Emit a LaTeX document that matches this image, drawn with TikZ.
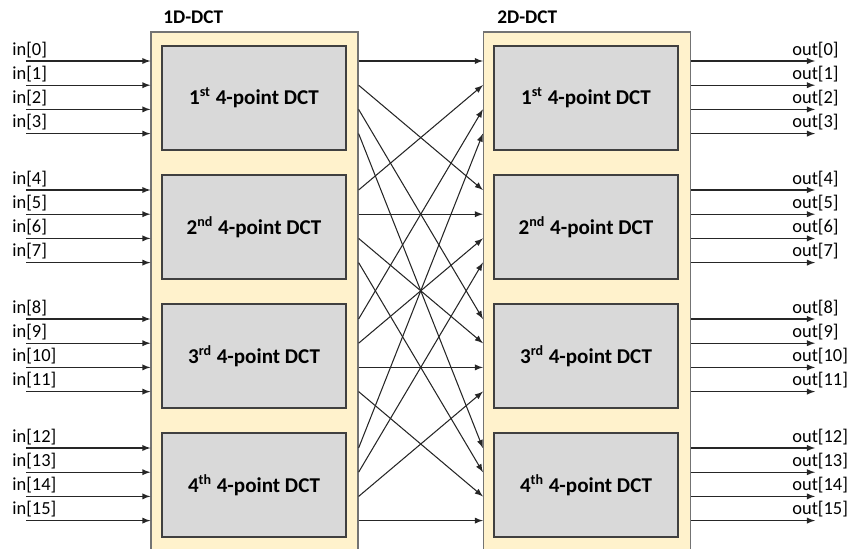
\documentclass[tikz,border=0pt]{standalone}
\usepackage{fontspec}
\setmainfont{Carlito}
\definecolor{stagecream}{HTML}{FFF2CC}
\definecolor{boxgray}{HTML}{D9D9D9}
\tikzset{
  stagebox/.style={draw=black!55, fill=stagecream, line width=0.7pt,
    minimum width=207*0.02cm, minimum height=528*0.02cm, inner sep=0pt},
  dctbox/.style={draw=black!75, fill=boxgray, line width=0.7pt,
    minimum width=184*0.02cm, minimum height=104*0.02cm, inner sep=0pt,
    font=\fontsize{12}{14}\selectfont\bfseries},
  sig/.style={line width=0.6pt, draw=black!85, -latex},
  portlabel/.style={anchor=base west, inner sep=0pt, font=\fontsize{10.5}{12}\selectfont},
  stagetitle/.style={anchor=base west, inner sep=0pt, font=\fontsize{11}{13}\selectfont\bfseries},
}
\begin{document}
\begin{tikzpicture}[x=0.02cm,y=-0.02cm]
\useasboundingbox (0,0) rectangle (855,548);
% the two stages
\node[stagebox] (dct1d) at (254.5,296) {};
\node[stagebox] (dct2d) at (587,296) {};
\node[stagetitle] (title1d) at (163,23) {1D-DCT};
\node[stagetitle] (title2d) at (497,23) {2D-DCT};
% 4-point blocks
\foreach \k/\num/\ord in {0/1/st,1/2/nd,2/3/rd,3/4/th} {
  \pgfmathsetmacro\yb{98+129*\k}
  \node[dctbox] (a\k) at (254,\yb) {\num\textsuperscript{\ord} 4-point DCT};
  \node[dctbox] (b\k) at (586,\yb) {\num\textsuperscript{\ord} 4-point DCT};
}
% inputs and outputs
\foreach \k in {0,...,3}
\foreach \r in {0,...,3} {
  \pgfmathtruncatemacro\n{4*\k+\r}
  \pgfmathsetmacro\y{61+129*\k+24.2*\r}
  \coordinate (in\n) at (26,\y);
  \coordinate (out\n) at (815,\y);
  \node[portlabel] (inlab\n) at (12,\y-6) {in[\n]};
  \node[portlabel] (outlab\n) at (792,\y-6) {out[\n]};
  \draw[sig] (in\n) -- (dct1d.west |- in\n);
  \draw[sig] (dct2d.east |- in\n) -- (out\n);
}
% transpose between the stages
\foreach \k in {0,...,3}
\foreach \r in {0,...,3} {
  \pgfmathtruncatemacro\n{4*\k+\r}
  \pgfmathtruncatemacro\m{4*\r+\k}
  \draw[sig] (dct1d.east |- in\n) -- (dct2d.west |- in\m);
}
\end{tikzpicture}
\end{document}
